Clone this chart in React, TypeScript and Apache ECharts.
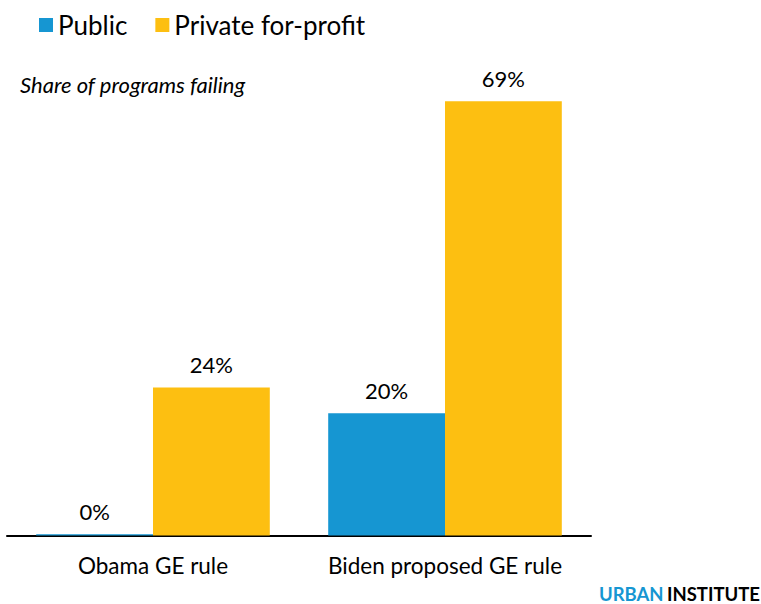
import React, { useEffect, useRef } from "react";
import * as echarts from "echarts";

const categories = ["Obama GE rule", "Biden proposed GE rule"];
const publicValues = [0.2, 19.5];
const privateValues = [23.6, 69.2];
const seriesNames = ["Public", "Private for-profit"];

const BLUE = "#1696d2";
const YELLOW = "#fdbf11";
const FONT = "Lato, 'Noto Sans', sans-serif";

export default function App() {
  const ref = useRef<HTMLDivElement>(null);
  useEffect(() => {
    if (!ref.current) return;
    const chart = echarts.init(ref.current, null, { renderer: "svg" });
    const label = {
      show: true,
      position: "top" as const,
      distance: 12,
      fontSize: 22,
      fontFamily: FONT,
      color: "#000",
      formatter: (p: any) => Math.round(p.value) + "%",
    };
    chart.setOption({
      animation: false,
      textStyle: { fontFamily: FONT },
      legend: {
        left: 34,
        top: 7,
        icon: "rect",
        itemWidth: 14,
        itemHeight: 14,
        itemGap: 28,
        textStyle: { fontSize: 26, color: "#000", fontFamily: FONT },
        data: seriesNames,
      },
      title: {
        text: "Share of programs failing",
        left: 15,
        top: 68,
        textStyle: {
          fontSize: 22,
          fontStyle: "italic",
          fontWeight: "normal",
          color: "#000",
          fontFamily: FONT,
        },
      },
      grid: { left: 7, right: 170, top: 33.5, bottom: 68.5, containLabel: false },
      xAxis: {
        type: "category",
        data: categories,
        axisLine: { lineStyle: { color: "#000", width: 2 } },
        axisTick: { show: false },
        axisLabel: {
          interval: 0,
          hideOverlap: false,
          fontSize: 22.5,
          color: "#000",
          margin: 18,
          fontFamily: FONT,
        },
      },
      yAxis: {
        type: "value",
        min: 0,
        max: 80,
        show: false,
        splitLine: { show: false },
      },
      series: [
        {
          name: seriesNames[0],
          type: "bar",
          data: publicValues,
          itemStyle: { color: BLUE },
          barGap: "0%",
          barCategoryGap: "20%",
          label,
        },
        {
          name: seriesNames[1],
          type: "bar",
          data: privateValues,
          itemStyle: { color: YELLOW },
          barGap: "0%",
          barCategoryGap: "20%",
          label,
        },
      ],
      graphic: [
        {
          type: "text",
          right: 1,
          top: 584,
          style: {
            text: "{a|URBAN} {b|INSTITUTE}",
            rich: {
              a: { fontSize: 18.5, fontWeight: "bold", fill: BLUE, fontFamily: FONT },
              b: { fontSize: 18.5, fontWeight: "bold", fill: "#000", fontFamily: FONT },
            },
          },
        },
      ],
    });
    return () => chart.dispose();
  }, []);
  return <div ref={ref} style={{ width: 761, height: 604, position: "absolute", left: 0, top: 0 }} />;
}
